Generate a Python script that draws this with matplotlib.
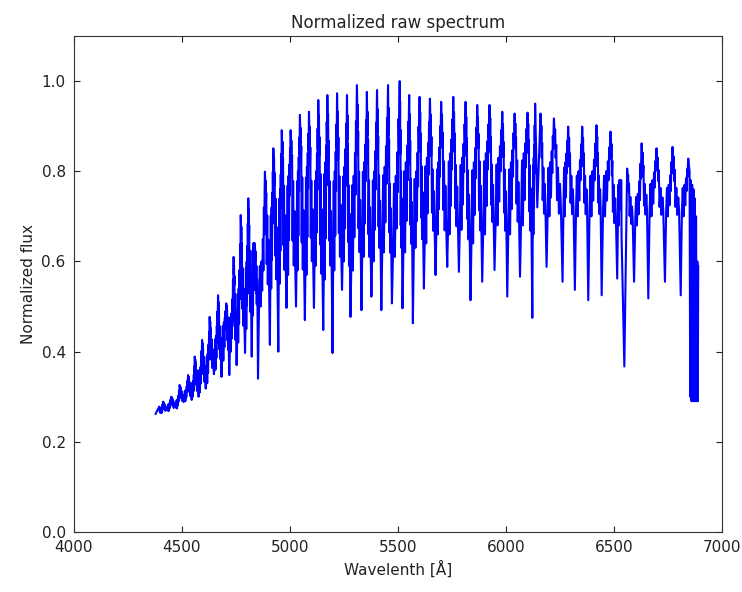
import numpy as np
import matplotlib
matplotlib.use("Agg")
import matplotlib.pyplot as plt

# ---- data ----
start_wl, start_flux = 4378, 0.262

peak_wl = [4395, 4412, 4450, 4489, 4528, 4559, 4593, 4628, 4667, 4705,
           4739, 4772, 4807, 4838, 4884, 4923, 4962, 5003, 5046, 5088,
           5131, 5173, 5218, 5264, 5310, 5356, 5403, 5454, 5508, 5552,
           5600, 5648, 5700, 5756, 5813, 5867, 5924, 5983, 6040, 6100,
           6135, 6160, 6222, 6288, 6353, 6419, 6484, 6535, 6561, 6628,
           6697, 6771]
peak_flux = [0.278, 0.289, 0.300, 0.326, 0.348, 0.389, 0.426, 0.477, 0.525, 0.507,
             0.610, 0.703, 0.740, 0.630, 0.799, 0.851, 0.891, 0.891, 0.925, 0.932,
             0.958, 0.969, 0.973, 0.969, 0.991, 0.976, 0.980, 0.991, 1.000, 0.969,
             0.965, 0.961, 0.954, 0.965, 0.954, 0.947, 0.947, 0.932, 0.928, 0.930,
             0.950, 0.928, 0.917, 0.899, 0.899, 0.902, 0.888, 0.660, 0.806, 0.862,
             0.851, 0.854]
trough_wl = [4402, 4430, 4470, 4508, 4545, 4577, 4610, 4648, 4683, 4719,
             4753, 4792, 4823, 4852, 4907, 4946, 4984, 5028, 5069, 5111,
             5154, 5197, 5241, 5280, 5331, 5377, 5423, 5472, 5521, 5569,
             5620, 5674, 5728, 5782, 5836, 5890, 5947, 6006, 6065, 6122,
             6145, 6188, 6262, 6319, 6381, 6443, 6515, 6548, 6593, 6659,
             6736, 6809]
trough_flux = [0.266, 0.270, 0.276, 0.288, 0.293, 0.300, 0.318, 0.350, 0.344, 0.348,
               0.370, 0.397, 0.389, 0.340, 0.415, 0.400, 0.497, 0.500, 0.470, 0.497,
               0.448, 0.397, 0.537, 0.477, 0.492, 0.522, 0.492, 0.507, 0.496, 0.463,
               0.540, 0.570, 0.588, 0.577, 0.514, 0.555, 0.581, 0.522, 0.566, 0.475,
               0.720, 0.588, 0.555, 0.537, 0.514, 0.525, 0.562, 0.367, 0.555, 0.518,
               0.555, 0.525]
# dense inner band (upper / lower level of fine structure) for each fringe
band_hi = [0.274, 0.284, 0.294, 0.315, 0.335, 0.365, 0.395, 0.435, 0.465, 0.485,
           0.54, 0.60, 0.64, 0.60, 0.72, 0.76, 0.79, 0.80, 0.81, 0.80,
           0.82, 0.80, 0.81, 0.79, 0.82, 0.80, 0.81, 0.79, 0.82, 0.80,
           0.83, 0.82, 0.84, 0.83, 0.82, 0.84, 0.83, 0.82, 0.84, 0.83,
           np.nan, 0.82, 0.82, 0.80, 0.80, 0.80, 0.78, np.nan, 0.75, 0.78,
           0.77, 0.77]
band_lo = [0.264, 0.268, 0.274, 0.290, 0.300, 0.310, 0.330, 0.360, 0.380, 0.400,
           0.42, 0.45, 0.48, 0.50, 0.54, 0.55, 0.57, 0.58, 0.57, 0.59,
           0.56, 0.58, 0.60, 0.58, 0.61, 0.60, 0.62, 0.61, 0.62, 0.63,
           0.64, 0.66, 0.66, 0.67, 0.64, 0.66, 0.68, 0.66, 0.68, 0.66,
           np.nan, 0.70, 0.70, 0.70, 0.70, 0.70, 0.68, np.nan, 0.68, 0.70,
           0.70, 0.70]
# red end of the spectrum (last fringe and the steep cut-off)
end_wl = [6844, 6850, 6853, 6856, 6859, 6862, 6865, 6868, 6871, 6874,
          6877, 6880, 6883, 6886, 6888, 6890]
end_flux = [0.828, 0.800, 0.300, 0.780, 0.290, 0.770, 0.290, 0.760, 0.290, 0.740,
            0.290, 0.700, 0.290, 0.600, 0.290, 0.590]

# ---- assemble the trace ----
# (position within half-fringe, level: 0 = band_lo, 1 = band_hi, 2 = peak)
down_steps = [(0.04, 1.85), (0.09, 1.45), (0.14, 1.75), (0.2, 1.1), (0.27, 1.4),
              (0.36, 0.3), (0.47, 0.9), (0.58, 0.05), (0.7, 0.6), (0.8, 0.2)]
up_steps = [(0.16, 0.15), (0.27, 0.9), (0.38, 0.0), (0.5, 1.0), (0.6, 0.35),
            (0.7, 1.25), (0.78, 0.8), (0.85, 1.6), (0.91, 1.3), (0.96, 1.8)]


def level(lev, lo, hi, pk):
    if lev <= 1:
        return lo + lev * (hi - lo)
    return hi + (lev - 1) * (pk - hi)


wl = [start_wl]
fl = [start_flux]
next_peaks = peak_wl[1:] + [end_wl[0]]
next_flux = peak_flux[1:] + [end_flux[0]]
for i in range(len(peak_wl)):
    p, t, q = peak_wl[i], trough_wl[i], next_peaks[i]
    hi, lo = band_hi[i], band_lo[i]
    wl.append(p); fl.append(peak_flux[i])
    if not np.isnan(hi):
        for fr, lev in down_steps:
            wl.append(p + fr * (t - p))
            fl.append(level(lev, lo, hi, max(peak_flux[i], hi)))
    wl.append(t); fl.append(trough_flux[i])
    if not np.isnan(hi):
        for fr, lev in up_steps:
            wl.append(t + fr * (q - t))
            fl.append(level(lev, lo, hi, max(next_flux[i], hi)))
wl += end_wl
fl += end_flux

fig = plt.figure(figsize=(7.42, 5.92), dpi=100)
ax = fig.add_axes([0.0997, 0.1014, 0.8733, 0.8378])
ax.plot(wl, fl, color=(0, 0, 1), lw=1.5)
ax.set_xlim(4000, 7000)
ax.set_ylim(0, 1.1)
ax.set_xticks([4000, 4500, 5000, 5500, 6000, 6500, 7000])
ax.set_yticks([0.0, 0.2, 0.4, 0.6, 0.8, 1.0])
ax.set_yticklabels(["0.0", "0.2", "0.4", "0.6", "0.8", "1.0"])
ax.tick_params(direction="in", top=True, right=True, length=4, labelsize=11,
               pad=6, colors="#222222")
for s in ax.spines.values():
    s.set_color("#333333")
ax.set_title("Normalized raw spectrum", fontsize=12, color="#222222")
ax.set_xlabel("Wavelenth [Å]", fontsize=11, color="#222222")
ax.set_ylabel("Normalized flux", fontsize=11, color="#222222")
fig.savefig("out.png", dpi=100)
